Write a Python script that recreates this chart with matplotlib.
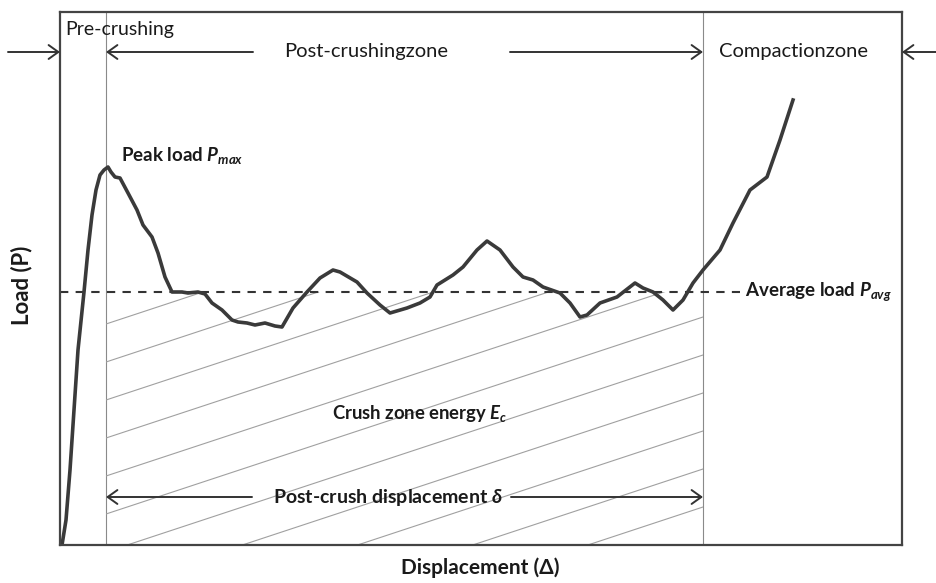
import numpy as np
import matplotlib
matplotlib.use("Agg")
import matplotlib.pyplot as plt
from matplotlib.patches import Rectangle

plt.rcParams['font.family'] = ['Lato', 'DejaVu Sans']
plt.rcParams['mathtext.fontset'] = 'custom'
plt.rcParams['mathtext.rm'] = 'Lato'
plt.rcParams['mathtext.it'] = 'Lato:italic:bold'
plt.rcParams['mathtext.bf'] = 'Lato:bold'

# load-displacement curve (arbitrary units)
displacement = [2, 6, 10, 14, 18, 24, 28, 32, 36, 40, 44, 48, 51, 55, 60, 68, 77, 83, 92, 98,
                105, 112, 122, 128, 138, 145, 152, 162, 172, 178, 187, 195, 205, 215, 222,
                233, 247, 260, 273, 280, 297, 307, 320, 330, 347, 360, 370, 377, 393, 403,
                417, 427, 440, 453, 463, 473, 483, 500, 510, 520, 527, 540, 557, 575, 583,
                593, 603, 613, 623, 633, 643, 660, 673, 690, 707, 720, 733]
load = [0, 25, 75, 135, 195, 253, 295, 330, 355, 370, 375, 378, 373, 368, 367, 352, 335, 320, 308, 292,
        268, 253, 253, 252, 253, 251, 242, 235, 225, 223, 222, 220, 222, 219, 218,
        237, 253, 267, 275, 273, 263, 252, 240, 232, 237, 242, 248, 260, 270, 278,
        295, 304, 295, 278, 268, 265, 258, 252, 242, 228, 230, 242, 248, 262, 257,
        253, 245, 235, 245, 262, 275, 295, 322, 355, 368, 405, 445]

x_max, y_max = 842, 533
precrush_end = 46
compaction_start = 643
avg_load = 253
hatch_slope = 0.33
hatch_spacing = 38

fig = plt.figure(figsize=(9.36, 5.83), dpi=100)
ax = fig.add_axes([60 / 936, 38 / 583, 842 / 936, 533 / 583])
ax.set_xlim(0, x_max)
ax.set_ylim(0, y_max)
ax.set_xticks([])
ax.set_yticks([])
for s in ax.spines.values():
    s.set_linewidth(1.6)
    s.set_color('#444444')

# zone boundaries
ax.axvline(precrush_end, color='#8a8a8a', lw=0.8)
ax.axvline(compaction_start, color='#8a8a8a', lw=0.8)

# hatched crush energy area
clip = Rectangle((precrush_end, 0), compaction_start - precrush_end, avg_load,
                 transform=ax.transData, fill=False, lw=0)
ax.add_patch(clip)
xs = np.array([precrush_end, compaction_start])
for c in np.arange(-hatch_slope * (compaction_start - precrush_end), avg_load, hatch_spacing):
    ln, = ax.plot(xs, c + hatch_slope * (xs - precrush_end), color='#a0a0a0', lw=0.8)
    ln.set_clip_path(clip)

# average load
ax.plot([0, 680], [avg_load, avg_load], color='#333333', lw=1.5, ls=(0, (4, 3.5)))

# curve
ax.plot(displacement, load, color='#3a3a3a', lw=2.6, solid_joinstyle='round')

arrow = dict(arrowstyle='->,head_length=0.7,head_width=0.5', color='#333333', lw=1.4,
             shrinkA=0, shrinkB=0)

# zone arrows at top
top_y = 493
for start, end in [(-52, 0), (193, precrush_end), (450, compaction_start), (876, x_max)]:
    ax.annotate('', xy=(end, top_y), xytext=(start, top_y), arrowprops=arrow,
                annotation_clip=False)

# post-crush displacement arrows
bot_y = 48
for start, end in [(192, precrush_end), (451, compaction_start)]:
    ax.annotate('', xy=(end, bot_y), xytext=(start, bot_y), arrowprops=arrow)

tk = dict(color='#1a1a1a')
ax.text(5, 515, 'Pre-crushing', fontsize=14, ha='left', va='center', **tk)
ax.text(306, top_y, 'Post-crushingzone', fontsize=14.5, ha='center', va='center', **tk)
ax.text(733, top_y, 'Compactionzone', fontsize=14.5, ha='center', va='center', **tk)
ax.text(61, 390, 'Peak load $P_{max}$', fontsize=13.5, fontweight='bold', ha='left', va='center', **tk)
ax.text(685, avg_load, 'Average load $P_{avg}$', fontsize=13.5, fontweight='bold',
        ha='left', va='center', **tk)
ax.text(360, 132, 'Crush zone energy $E_c$', fontsize=13.3, fontweight='bold',
        ha='center', va='center', **tk)
ax.text(328, bot_y, 'Post-crush displacement $\\delta$', fontsize=14, fontweight='bold',
        ha='center', va='center', **tk)
ax.text(420, -23, 'Displacement (Δ)', fontsize=15, fontweight='bold',
        ha='center', va='center', clip_on=False, **tk)
ax.text(-38, 260, 'Load (P)', fontsize=16, fontweight='bold', rotation=90,
        ha='center', va='center', clip_on=False, **tk)

fig.savefig('out.png', dpi=100)
